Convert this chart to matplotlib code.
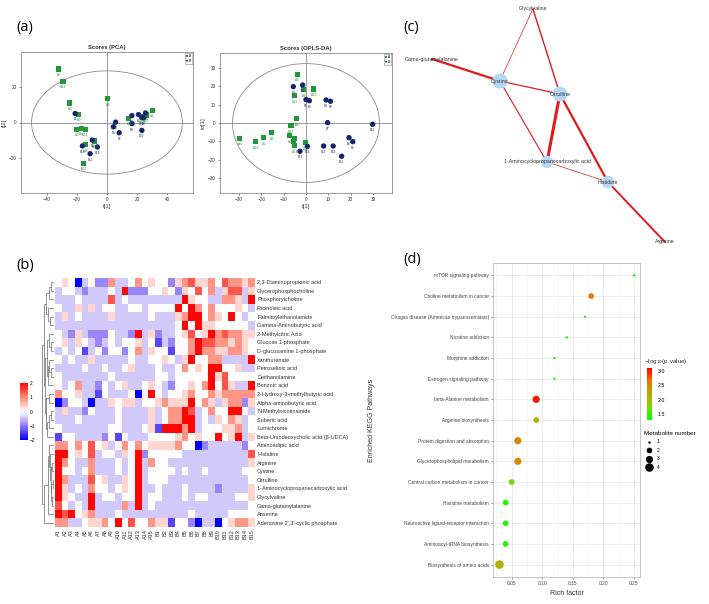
import numpy as np
import matplotlib
matplotlib.use('Agg')
import matplotlib.pyplot as plt
from matplotlib.colors import LinearSegmentedColormap, Normalize
from matplotlib.patches import Ellipse
from matplotlib.lines import Line2D
import matplotlib.cm as cm

plt.rcParams['font.family'] = ['Liberation Sans', 'DejaVu Sans']

# ---------------- (a) score plots data ----------------
pca_A_lab = ["A7", "A13", "A2", "A8", "A9", "A5", "A4", "A14", "A6", "A12", "A11", "A3", "A15", "A10", "A1"]
pca_A_x = [-31.9, -29.2, -24.6, -18.9, 0.4, -20.2, -17.1, -14.5, -14.1, -8.1, -15.4, 14.5, 23.7, 25.9, 29.9]
pca_A_y = [30.4, 23.3, 11.1, 4.7, 13.5, -3.9, -3.2, -3.9, -12.6, -10.5, -23.1, 2.4, 3.6, 4.3, 6.9]
pca_B_lab = ["B1", "B14", "B9", "B11", "B13", "B5", "B4", "B7", "B6", "B3", "B8", "B12", "B2", "B15", "B10"]
pca_B_x = [-21.1, -16.3, -9.7, -11.2, -6.4, 4.2, 5.7, 8.1, 16.5, 16.5, 20.9, 23.1, 24.2, 25.5, 23.1]
pca_B_y = [5.1, -13.3, -10.0, -17.7, -13.9, -2.4, 0.2, -5.8, 3.9, -0.6, 4.5, 2.8, 2.6, 5.4, -4.5]

opls_A_lab = ["A4", "A10", "A2", "A5", "A9", "A8", "A12", "A11", "A6", "A13", "A1", "A3", "A7", "A14", "A15"]
opls_A_x = [-29.7, -22.5, -19.0, -15.5, -3.9, -1.0, 3.4, -5.1, -4.2, -6.7, -7.3, -5.2, -5.5, -5.1, -0.3]
opls_A_y = [-8.4, -10.2, -8.0, -5.3, 26.5, 18.2, 18.6, 15.0, 2.4, -1.5, -6.9, -8.4, -10.0, -12.4, -10.8]
opls_B_lab = ["B8", "B3", "B5", "B6", "B4", "B9", "B7", "B15", "B14", "B12", "B13", "B11", "B2", "B6", "B10"]
opls_B_x = [-5.7, -1.5, 0.0, 1.5, 9.0, 11.0, 9.7, -2.7, 0.6, 7.9, 12.2, 16.0, 19.3, 21.0, 29.9]
opls_B_y = [19.9, 20.8, 12.8, 12.2, 12.6, 11.9, 0.2, -15.5, -12.8, -12.6, -12.6, -18.2, -8.0, -10.2, -0.7]

# ---------------- (b) heatmap data ----------------
metabolites = [
    "2,3-Diaminopropionic acid", "Glycerophosphocholine", "Phosphorylcholine", "Ricinoleic acid",
    "Palmitoylethanolamide", "Gamma-Aminobutyric acid", "2-Methylcitric Acid", "Glucose 1-phosphate",
    "D-glucosamine 1-phosphate", "Xanthurenate", "Petroselinic acid", "Diethanolamine", "Benzoic acid",
    "2-Hydroxy-3-methylbutyric acid", "Alpha-aminobutyric acid", "N-Methylnicotinamide", "Suberic acid",
    "Lumichrome", "Beta-Ursodeoxycholic acid (\u03b2-UDCA)", "Aminoadipic acid", "Histidine", "Arginine",
    "Cystine", "Citrulline", "1-Aminocyclopropanecarboxylic acid", "Glycylvaline", "Gama-glutamylalanine",
    "Anserine", "Adenosine 2',3'-cyclic phosphate"]
samples = ["A%d" % i for i in range(1, 16)] + ["B%d" % i for i in range(1, 16)]
# z-score level codes 0..8 (0 = strongest blue, 4 = white, 8 = strongest red), groups A | B
heat_codes = [
    "454034226334645" "442567556476656",
    "344323334382224" "454254746357735",
    "333433337343333" "333385443366538",
    "433535344334434" "444848646444543",
    "353433335333334" "333568846548434",
    "333333333333333" "333484855444443",
    "432532224332835" "233457458676655",
    "453543234344534" "132446877665654",
    "343413424424635" "441446866556654",
    "434335333334334" "454358446633338",
    "333343343345333" "433464548844533",
    "433333334333333" "443444448574444",
    "434633243453345" "432445468475338",
    "644533143334048" "434456446566666",
    "024430335455344" "565558465356625",
    "353324333433335" "346687346448843",
    "333433333433335" "346688343546534",
    "433333334433345" "188868344455634",
    "144333324143334" "444564544845835",
    "664647453464645" "555644023333324",
    "884547344354824" "444433333333337",
    "864336333434836" "443333333333335",
    "844346333434834" "444343343333344",
    "863337453354834" "443333333333334",
    "853436443454833" "433343333233335",
    "854338344344834" "433343443333445",
    "743438333363834" "333333333333334",
    "878456333433333" "333334333334444",
    "663345564847446" "551442033045665",
]
code_values = [-2.0, -1.4, -0.9, -0.4, 0.0, 0.35, 0.9, 1.4, 2.0]
# row dendrogram: [height, left, right], leaves are row indices
row_tree = [1.0,
            [0.85,
             [0.7, [0.45, [0.3, 0, 1], 2], [0.5, 3, [0.35, 4, 5]]],
             [0.75,
              [0.55, [0.4, 6, [0.3, 7, 8]], [0.5, [0.4, 9, [0.3, 10, 11]], 12]],
              [0.65, [0.45, 13, 14], [0.6, [0.4, [0.3, 15, 16], 17], 18]]]],
            [0.8,
             [0.5, [0.45, 19, [0.35, 20, [0.3, [0.2, 21, 22], [0.25, [0.15, 23, 24], [0.2, 25, 26]]]]], 27],
             28]]

# ---------------- (c) network data ----------------
net_nodes = ["Glycylvaline", "Gama-glutamylalanine", "Cystine", "Citrulline",
             "1-Aminocyclopropanecarboxylic acid", "Histidine", "Arginine"]
net_x = [0.443, 0.107, 0.333, 0.533, 0.49, 0.693, 0.883]
net_y = [0.965, 0.764, 0.676, 0.624, 0.352, 0.272, 0.032]
net_size = [0, 0, 120, 115, 80, 80, 0]
net_edges = [(0, 2, 0.5), (0, 3, 1.0), (1, 2, 1.6), (2, 3, 0.9), (2, 4, 0.8),
             (3, 4, 2.2), (3, 5, 1.6), (4, 5, 0.5), (5, 6, 1.4)]

# ---------------- (d) KEGG enrichment data ----------------
pathways = ["mTOR signaling pathway", "Choline metabolism in cancer",
            "Chagas disease (American trypanosomiasis)", "Nicotine addiction", "Morphine addiction",
            "Estrogen signaling pathway", "beta-Alanine metabolism", "Arginine biosynthesis",
            "Protein digestion and absorption", "Glycerophospholipid metabolism",
            "Central carbon metabolism in cancer", "Histidine metabolism",
            "Neuroactive ligand-receptor interaction", "Aminoacyl-tRNA biosynthesis",
            "Biosynthesis of amino acids"]
rich_factor = [0.25, 0.18, 0.17, 0.14, 0.12, 0.12, 0.09, 0.09, 0.06, 0.06, 0.05, 0.04, 0.04, 0.04, 0.03]
neg_log_p = [1.33, 2.62, 1.36, 1.35, 1.34, 1.34, 3.0, 2.05, 2.5, 2.5, 1.75, 1.45, 1.45, 1.45, 2.1]
met_number = [1, 2, 1, 1, 1, 1, 3, 2, 3, 3, 2, 2, 2, 2, 4]

# ======================================================
W, H = 709, 604
fig = plt.figure(figsize=(W / 100, H / 100), dpi=100)
fig.patch.set_facecolor('white')


def ax_px(x0, y0, x1, y1, **kw):
    return fig.add_axes([x0 / W, 1 - y1 / H, (x1 - x0) / W, (y1 - y0) / H], **kw)


GREEN = '#23963a'
NAVY = '#15256b'
GRAY = '#8a8a8a'
PANEL_FONT = dict(fontsize=10.5, family=['Open Sans', 'DejaVu Sans'])


def score_plot(ax, ax_lab, bx_lab, ax_x, ax_y, bx_x, bx_y, xlim, ylim, ell, xt, yt, title, ylab, legend):
    ax.set_xlim(*xlim)
    ax.set_ylim(*ylim)
    ax.add_patch(Ellipse((0, 0), ell[0], ell[1], fill=False, ec=GRAY, lw=0.6))
    ax.axhline(0, color=GRAY, lw=0.6, zorder=1)
    ax.axvline(0, color=GRAY, lw=0.6, zorder=1)
    ax.scatter(ax_x, ax_y, marker='s', s=14, c=GREEN, edgecolors='none', zorder=3, label='A')
    ax.scatter(bx_x, bx_y, marker='o', s=15, c=NAVY, edgecolors='none', zorder=3, label='B')
    dy = (ylim[1] - ylim[0]) * 0.028
    for x, y, t in zip(ax_x, ax_y, ax_lab):
        ax.text(x, y - dy, t, fontsize=2.2, color=GREEN, ha='center', va='top', zorder=4)
    for x, y, t in zip(bx_x, bx_y, bx_lab):
        ax.text(x, y - dy, t, fontsize=2.2, color=NAVY, ha='center', va='top', zorder=4)
    ax.set_xticks(xt)
    ax.set_yticks(yt)
    ax.tick_params(labelsize=3.3, length=1.5, width=0.4, pad=1.5, colors='#333333')
    for s in ax.spines.values():
        s.set_color(GRAY)
        s.set_linewidth(0.6)
    ax.set_title(title, fontsize=4.2, fontweight='bold', pad=2.5, color='#333333')
    ax.set_xlabel('t[1]', fontsize=4.2, labelpad=1.5, color='#333333')
    ax.set_ylabel(ylab, fontsize=4.2, labelpad=1.5, color='#333333')
    if legend:
        lg = ax.legend(loc='upper right', fontsize=2.3, markerscale=0.35, handlelength=0.6,
                       handletextpad=0.3, borderpad=0.3, labelspacing=0.2, borderaxespad=0.3,
                       fancybox=False, framealpha=1)
        lg.get_frame().set_linewidth(0.4)
        lg.get_frame().set_edgecolor(GRAY)


ax1 = ax_px(21, 52, 193, 193)
score_plot(ax1, pca_A_lab, pca_B_lab, pca_A_x, pca_A_y, pca_B_x, pca_B_y, (-57, 57), (-40, 40),
           (100, 58.6), [-40, -20, 0, 20, 40], [-20, 0, 20], 'Scores (PCA)', 't[2]', True)
ax2 = ax_px(220, 53, 392, 193)
score_plot(ax2, opls_A_lab, opls_B_lab, opls_A_x, opls_A_y, opls_B_x, opls_B_y, (-38.6, 38.6), (-38.3, 38.3),
           (66, 65), [-30, -20, -10, 0, 10, 20, 30], [-30, -20, -10, 0, 10, 20, 30], 'Scores (OPLS-DA)', 'to[1]',
           True)
fig.text(16 / W, 1 - 28 / H, '(a)', va='center', ha='left', **PANEL_FONT)

# ---------------- (b) heatmap ----------------
vals = np.array([[code_values[int(c)] for c in row] for row in heat_codes])
hm_cmap = LinearSegmentedColormap.from_list(
    'bwr2', [(0.0, '#0000ff'), (0.25, '#8f78f5'), (0.5, '#ffffff'), (0.75, '#ff8a7a'), (1.0, '#ff0505')])
axh = ax_px(55, 278, 255, 527)
im = axh.imshow(vals, cmap=hm_cmap, vmin=-2, vmax=2, aspect='auto', interpolation='nearest')
axh.set_xticks(range(len(samples)))
axh.set_xticklabels(samples, rotation=90, fontsize=4.0, color='#333333')
axh.set_yticks(range(len(metabolites)))
axh.set_yticklabels(metabolites, fontsize=4.0, color='#333333')
axh.yaxis.tick_right()
axh.tick_params(length=0, pad=1.5)
for s in axh.spines.values():
    s.set_visible(False)

cax = ax_px(20, 383, 28, 440)
cb = fig.colorbar(im, cax=cax, ticks=[-2, -1, 0, 1, 2])
cb.outline.set_visible(False)
cb.ax.tick_params(labelsize=3.5, length=0, pad=1.5)

# dendrogram
axd = ax_px(41.5, 278, 54.5, 527)


def draw_tree(node):
    if isinstance(node, int):
        return float(node), 0.0
    h, l, r = node
    yl, hl = draw_tree(l)
    yr, hr = draw_tree(r)
    axd.plot([hl, h], [yl, yl], color='#666666', lw=0.5, solid_capstyle='butt')
    axd.plot([hr, h], [yr, yr], color='#666666', lw=0.5, solid_capstyle='butt')
    axd.plot([h, h], [yl, yr], color='#666666', lw=0.5, solid_capstyle='butt')
    return (yl + yr) / 2, h


draw_tree(row_tree)
axd.set_xlim(row_tree[0] + 0.02, 0)
axd.set_ylim(len(metabolites) - 0.5, -0.5)
axd.axis('off')
fig.text(16 / W, 1 - 266 / H, '(b)', va='center', ha='left', **PANEL_FONT)

# ---------------- (c) network ----------------
axn = ax_px(400, 0, 700, 250)
axn.set_xlim(0, 1)
axn.set_ylim(0, 1)
axn.axis('off')
for i, j, w in net_edges:
    axn.plot([net_x[i], net_x[j]], [net_y[i], net_y[j]], color='#e3191c', lw=w, zorder=1,
             solid_capstyle='round')
axn.scatter(net_x, net_y, s=net_size, c='#b5d8f4', edgecolors='none', zorder=2)
for x, y, t in zip(net_x, net_y, net_nodes):
    axn.text(x, y, t, fontsize=3.8, ha='center', va='center', color='#333333', zorder=3)
fig.text(403 / W, 1 - 28 / H, '(c)', va='center', ha='left', **PANEL_FONT)

# ---------------- (d) KEGG bubble ----------------
axk = ax_px(493, 263, 640, 577)
n = len(pathways)
ypos = np.arange(n, 0, -1)
stops = ['#00ff00', '#80d400', '#bba900', '#e67a00', '#ff0000']
kcmap = LinearSegmentedColormap.from_list('gr', stops)
knorm = Normalize(1.30, 3.09)
size_map = {1: 3, 2: 17, 3: 27, 4: 38}
axk.set_axisbelow(True)
axk.scatter(rich_factor, ypos, s=[size_map[m] for m in met_number], c=neg_log_p, cmap=kcmap, norm=knorm,
            edgecolors='none', zorder=3)
axk.set_xlim(0.0194, 0.2598)
axk.set_ylim(0.4, n + 0.6)
axk.set_xticks([0.05, 0.10, 0.15, 0.20, 0.25])
axk.set_xticklabels(['0.05', '0.10', '0.15', '0.20', '0.25'])
axk.set_xticks([0.025, 0.075, 0.125, 0.175, 0.225], minor=True)
axk.set_yticks(ypos)
axk.set_yticklabels(pathways)
axk.tick_params(labelsize=3.5, length=1.5, width=0.4, pad=1.5, colors='#444444')
axk.tick_params(which='minor', length=0)
axk.grid(True, which='major', color='#e4e4e4', lw=0.5)
axk.grid(True, which='minor', axis='x', color='#f0f0f0', lw=0.4)
for s in axk.spines.values():
    s.set_color('#bbbbbb')
    s.set_linewidth(0.6)
axk.set_xlabel('Rich factor', fontsize=5, labelpad=3, color='#333333')
axk.set_ylabel('Enriched KEGG Pathways', fontsize=5, labelpad=4, color='#333333')
axk.yaxis.set_label_coords(-0.80, 0.5)
fig.text(403 / W, 1 - 260 / H, '(d)', va='center', ha='left', **PANEL_FONT)

# colourbar for (d)
cax2 = ax_px(647, 368, 652, 420)
cb2 = fig.colorbar(cm.ScalarMappable(norm=knorm, cmap=kcmap), cax=cax2, ticks=[1.5, 2.0, 2.5, 3.0])
cb2.ax.set_yticklabels(['1.5', '2.0', '2.5', '3.0'])
cb2.outline.set_visible(False)
cb2.ax.tick_params(labelsize=3.8, length=1.2, width=0.4, color='white', pad=3)
fig.text(644 / W, 1 - 361 / H, '\u2212log$_{10}$(p.value)', fontsize=4.5, ha='left', va='center',
         color='#333333')

# size legend for (d)
handles = [Line2D([], [], marker='o', ls='', color='black', markeredgewidth=0,
                  markersize=np.sqrt(size_map[k])) for k in sorted(size_map)]
lg = fig.legend(handles, [str(k) for k in sorted(size_map)], title='Metabolite number',
                loc='upper left', bbox_to_anchor=(644 / W, 1 - 431 / H), frameon=False,
                fontsize=3.5, title_fontsize=4.5, handletextpad=0.6, labelspacing=0.7,
                borderaxespad=0, borderpad=0)
lg._legend_box.align = 'left'

fig.savefig('out.png', dpi=100)
